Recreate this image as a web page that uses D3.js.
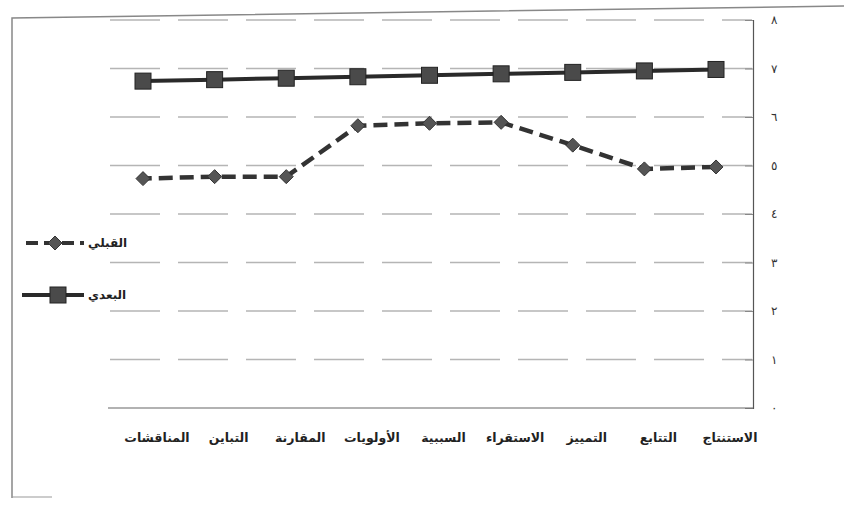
<!DOCTYPE html>
<html>
<meta charset="utf-8">
<style>
body { margin: 0; background: #fff; }
text { font-family: "DejaVu Sans", sans-serif; }
</style>
<svg width="844" height="509"></svg>
<script src="https://d3js.org/d3.v7.min.js"></script>
<script>

// categories, first one sits at the right (RTL chart)
var categories = ["الاستنتاج", "التتابع", "التمييز", "الاستقراء", "السببية", "الأولويات", "المقارنة", "التباين", "المناقشات"];
var preValues  = [4.97, 4.93, 5.42, 5.89, 5.87, 5.82, 4.77, 4.77, 4.73];   // القبلي
var postValues = [6.98, 6.95, 6.92, 6.89, 6.86, 6.83, 6.80, 6.77, 6.74];   // البعدي
var yTicks = [0, 1, 2, 3, 4, 5, 6, 7, 8];
var yTickLabels = ["٠", "١", "٢", "٣", "٤", "٥", "٦", "٧", "٨"];
var seriesNames = ["القبلي", "البعدي"];

var svg = d3.select("svg");

var x = d3.scalePoint()
    .domain(categories)
    .range([716, 143]);

var y = d3.scaleLinear()
    .domain([0, 8])
    .range([408, 20]);

// outer frame (scanned page border)
svg.append("path")
    .attr("d", "M12,498 L12,18 L844,6")
    .attr("fill", "none")
    .attr("stroke", "#888")
    .attr("stroke-width", 1.5);
svg.append("line")
    .attr("x1", 12).attr("x2", 52).attr("y1", 497).attr("y2", 497)
    .attr("stroke", "#999");

// gridlines
svg.append("g")
  .selectAll("line")
  .data(yTicks.slice(1))
  .enter().append("line")
    .attr("x1", 110)
    .attr("x2", 752)
    .attr("y1", function(d) { return y(d); })
    .attr("y2", function(d) { return y(d); })
    .attr("stroke", "#b5b5b5")
    .attr("stroke-width", 1.5)
    .attr("stroke-dasharray", "50,18");

// right axis
var yAxis = svg.append("g")
    .attr("transform", "translate(753,0)")
    .call(d3.axisRight(y).tickValues(yTicks).tickSize(-8).tickPadding(18)
      .tickFormat(function(d, i) { return yTickLabels[i]; }));
yAxis.select(".domain").attr("stroke", "#555").attr("stroke-width", 1.2);
yAxis.selectAll("line").attr("stroke", "#888");
yAxis.selectAll("text").attr("font-size", 12).attr("fill", "#333");

// bottom axis line
svg.append("line")
    .attr("x1", 108).attr("x2", 753)
    .attr("y1", y(0)).attr("y2", y(0))
    .attr("stroke", "#666").attr("stroke-width", 1.2);

// category labels
svg.append("g")
  .selectAll("text")
  .data(categories)
  .enter().append("text")
    .attr("x", function(d) { return x(d) + 14; })
    .attr("y", 442)
    .attr("text-anchor", "middle")
    .attr("font-size", 12.5)
    .attr("font-weight", "bold")
    .attr("fill", "#222")
    .text(function(d) { return d; });

var line = d3.line()
    .x(function(d, i) { return x(categories[i]); })
    .y(function(d) { return y(d); });

var diamond = "M0,-7L7,0L0,7L-7,0Z";

// البعدي
svg.append("path")
    .datum(postValues)
    .attr("d", line)
    .attr("fill", "none")
    .attr("stroke", "#2a2a2a")
    .attr("stroke-width", 4);

svg.append("g")
  .selectAll("rect")
  .data(postValues)
  .enter().append("rect")
    .attr("x", function(d, i) { return x(categories[i]) - 8; })
    .attr("y", function(d) { return y(d) - 8; })
    .attr("width", 16)
    .attr("height", 16)
    .attr("fill", "#4a4a4a")
    .attr("stroke", "#222")
    .attr("stroke-width", 1);

// القبلي
svg.append("path")
    .datum(preValues)
    .attr("d", line)
    .attr("fill", "none")
    .attr("stroke", "#333")
    .attr("stroke-width", 4.5)
    .attr("stroke-dasharray", "14,7");

svg.append("g")
  .selectAll("path")
  .data(preValues)
  .enter().append("path")
    .attr("d", diamond)
    .attr("transform", function(d, i) { return "translate(" + x(categories[i]) + "," + y(d) + ")"; })
    .attr("fill", "#555")
    .attr("stroke", "#333");

// legend
var legend = svg.append("g");
legend.append("line")
    .attr("x1", 26).attr("x2", 84).attr("y1", 243).attr("y2", 243)
    .attr("stroke", "#333").attr("stroke-width", 4).attr("stroke-dasharray", "12,6");
legend.append("path")
    .attr("d", diamond)
    .attr("transform", "translate(55,243)")
    .attr("fill", "#555").attr("stroke", "#333");
legend.append("line")
    .attr("x1", 22).attr("x2", 84).attr("y1", 295).attr("y2", 295)
    .attr("stroke", "#2a2a2a").attr("stroke-width", 4);
legend.append("rect")
    .attr("x", 50).attr("y", 287).attr("width", 16).attr("height", 16)
    .attr("fill", "#4a4a4a").attr("stroke", "#222");
legend.selectAll("text")
  .data(seriesNames)
  .enter().append("text")
    .attr("x", 88)
    .attr("y", function(d, i) { return i ? 299 : 247; })
    .attr("font-size", 12)
    .attr("font-weight", "bold")
    .attr("fill", "#222")
    .text(function(d) { return d; });

</script>
</html>
